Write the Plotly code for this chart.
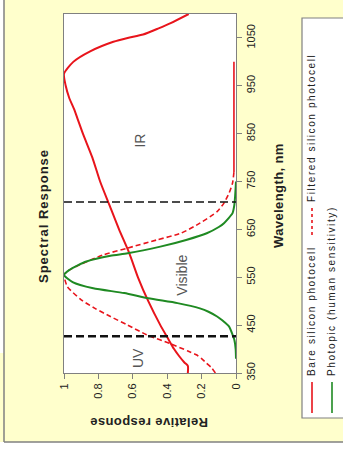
import plotly.graph_objects as go

# ---- data -------------------------------------------------------------
# Bare silicon photocell
bare_wavelength = [350, 365, 372, 385, 400, 425, 450, 500, 550, 600, 650, 700, 750,
                   800, 850, 880, 900, 925, 950, 975, 1000, 1022, 1042, 1050, 1057,
                   1070, 1081, 1100]
bare_response = [0.28, 0.28, 0.30, 0.33, 0.36, 0.40, 0.44, 0.51, 0.57, 0.62, 0.68,
                 0.735, 0.79, 0.835, 0.89, 0.92, 0.94, 0.97, 0.99, 1.0, 0.946,
                 0.848, 0.713, 0.63, 0.54, 0.45, 0.38, 0.275]

# Filtered silicon photocell
filtered_wavelength = [350, 360, 370, 380, 388, 396, 411, 430, 450, 468, 485, 503,
                       530, 545, 555, 565, 576, 597, 611, 628, 642, 663, 687, 705,
                       726, 747, 770]
filtered_response = [0.12, 0.14, 0.17, 0.20, 0.23, 0.28, 0.38, 0.52, 0.63, 0.73,
                     0.82, 0.90, 0.98, 0.995, 1.0, 0.97, 0.91, 0.77, 0.63, 0.46,
                     0.32, 0.21, 0.11, 0.07, 0.04, 0.02, 0.012]
filtered_tail_wavelength = [770, 850, 950, 1000]
filtered_tail_response = [0.012, 0.012, 0.012, 0.012]

# Photopic curve (human sensitivity)
photopic_wavelength = [380, 400, 420, 430, 447, 460, 468, 478, 485, 496, 506, 517,
                       527, 540, 555, 565, 575, 583, 595, 600, 614, 628, 642, 655,
                       663, 684, 700, 720, 750]
photopic_response = [0.0, 0.002, 0.01, 0.02, 0.04, 0.08, 0.11, 0.16, 0.21, 0.34,
                     0.51, 0.65, 0.83, 0.95, 1.0, 0.97, 0.92, 0.87, 0.73, 0.63,
                     0.44, 0.29, 0.17, 0.10, 0.07, 0.02, 0.01, 0.005, 0.0]

cutoff_wavelengths = [427, 707]
cutoff_widths = [2.5, 1.5]

band_labels = ["UV", "Visible", "IR"]
band_wavelength = [381, 555, 835]
band_response = [0.57, 0.315, 0.56]

wavelength_ticks = [350, 450, 550, 650, 750, 850, 950, 1050]
response_ticks = [0, 0.2, 0.4, 0.6, 0.8, 1]
response_tick_text = ["0", "0.2", "0.4", "0.6", "0.8", "1"]

RED = "#E8141B"
GREEN = "#1F8A22"
GREY = "#808080"
TEXT = "#222222"
FONT = "Liberation Sans"

# ---- page geometry (pixels) -------------------------------------------
W, H = 343, 450
L, R, T, B = 64, 236, 14, 373


def px_x(p):
    return (p - L) / (R - L)


def px_y(p):
    return (B - p) / (B - T)


def spaced(text, px):
    return '<span style="letter-spacing:%spx">%s</span>' % (px, text)


fig = go.Figure()

fig.add_trace(go.Scatter(
    x=bare_response, y=bare_wavelength, mode="lines",
    line=dict(color=RED, width=2, shape="spline", smoothing=0.6),
    name="Bare silicon photocell", hoverinfo="skip"))
fig.add_trace(go.Scatter(
    x=filtered_response, y=filtered_wavelength, mode="lines",
    line=dict(color=RED, width=1.6, dash="5px,3px", shape="spline", smoothing=0.6),
    name="Filtered silicon photocell", hoverinfo="skip"))
fig.add_trace(go.Scatter(
    x=filtered_tail_response, y=filtered_tail_wavelength, mode="lines",
    line=dict(color=RED, width=1.6),
    showlegend=False, hoverinfo="skip"))
fig.add_trace(go.Scatter(
    x=photopic_response, y=photopic_wavelength, mode="lines",
    line=dict(color=GREEN, width=2, shape="spline", smoothing=0.6),
    name="Photopic (human sensitivity)", hoverinfo="skip"))

# band boundaries
for wl, w in zip(cutoff_wavelengths, cutoff_widths):
    fig.add_shape(type="line", xref="paper", yref="y", x0=0, x1=1, y0=wl, y1=wl,
                  line=dict(color="#111111", width=w, dash="8px,4px"))

# band names
for name, wl, r in zip(band_labels, band_wavelength, band_response):
    fig.add_annotation(x=r, y=wl, xref="x", yref="y", text=name, showarrow=False,
                       textangle=-90, xanchor="center", yanchor="middle",
                       font=dict(family=FONT, size=14, color="#555555"))

# page frame: yellow page with a grey edge on the left and bottom
fig.add_shape(type="rect", xref="paper", yref="paper",
              x0=px_x(0), x1=px_x(4), y0=px_y(0), y1=px_y(W + 10),
              fillcolor="white", line=dict(width=0), layer="above")
fig.add_shape(type="rect", xref="paper", yref="paper",
              x0=px_x(0), x1=px_x(W), y0=px_y(442), y1=px_y(H),
              fillcolor="white", line=dict(width=0), layer="above")
fig.add_shape(type="line", xref="paper", yref="paper",
              x0=px_x(4), x1=px_x(4), y0=px_y(0), y1=px_y(442),
              line=dict(color=GREY, width=1.5))
fig.add_shape(type="line", xref="paper", yref="paper",
              x0=px_x(4), x1=px_x(W), y0=px_y(442), y1=px_y(442),
              line=dict(color=GREY, width=1.5))

# titles
titles = [
    ("Spectral Response", 44, 216, -90, 13, 1.0),
    ("Wavelength, nm", 278, 196, -90, 13, 0.4),
    ("Relative response", 149, 423, 180, 13, 0.4),
]
for text, tx, ty, angle, size, sp in titles:
    fig.add_annotation(x=px_x(tx), y=px_y(ty), xref="paper", yref="paper",
                       text="<b>" + spaced(text, sp) + "</b>", showarrow=False,
                       textangle=angle, xanchor="center", yanchor="middle",
                       font=dict(family=FONT, size=size, color=TEXT))

# legend box
fig.add_shape(type="rect", xref="paper", yref="paper",
              x0=px_x(302), x1=px_x(W + 10), y0=px_y(418), y1=px_y(18),
              fillcolor="white", line=dict(color=GREY, width=1.2))
legend_items = [
    ("Bare silicon photocell", RED, None, 312, 382, 413, 378),
    ("Filtered silicon photocell", RED, "3px,3px", 312, 207, 235, 204),
    ("Photopic (human sensitivity)", GREEN, None, 332, 382, 413, 378),
]
for label, color, dash, lx, y_top, y_bot, text_start in legend_items:
    fig.add_shape(type="line", xref="paper", yref="paper",
                  x0=px_x(lx), x1=px_x(lx), y0=px_y(y_bot), y1=px_y(y_top),
                  line=dict(color=color, width=1.6, dash=dash or "solid"))
    fig.add_annotation(x=px_x(lx - 1), y=px_y(text_start), xref="paper", yref="paper",
                       text=spaced(label, 1.6),
                       showarrow=False, textangle=-90, xanchor="center", yanchor="bottom",
                       font=dict(family=FONT, size=10, color=TEXT))

axis_common = dict(showline=True, linecolor=GREY, linewidth=1, mirror=True,
                   showgrid=False, zeroline=False, ticks="outside", ticklen=5,
                   tickcolor=GREY, tickangle=-90,
                   tickfont=dict(family=FONT, size=11, color=TEXT))

fig.update_layout(
    width=W, height=H,
    margin=dict(l=L, r=W - R, t=T, b=H - B, pad=0),
    paper_bgcolor="#FFFFCC", plot_bgcolor="white",
    showlegend=False,
    xaxis=dict(range=[1, 0], tickvals=response_ticks, ticktext=response_tick_text,
               **axis_common),
    yaxis=dict(range=[350, 1100], side="right", tickvals=wavelength_ticks,
               **axis_common),
)

fig.write_html("out.html")
